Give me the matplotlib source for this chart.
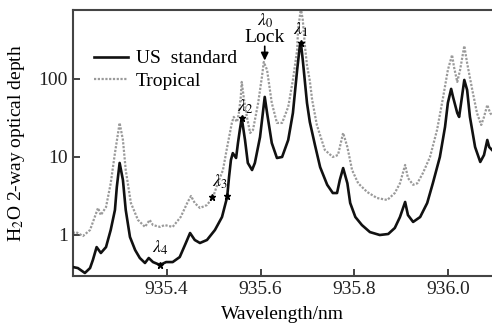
import matplotlib
matplotlib.use("Agg")
import matplotlib.pyplot as plt
from matplotlib.ticker import FixedLocator, FixedFormatter, NullLocator

plt.rcParams['font.family'] = ['Liberation Serif', 'DejaVu Serif']
plt.rcParams['mathtext.fontset'] = 'stix'

# ---- data ----
us_x = [935.200, 935.211, 935.226, 935.237, 935.243, 935.251, 935.260, 935.271,
        935.281, 935.290, 935.294, 935.300, 935.307, 935.313, 935.322, 935.333,
        935.343, 935.354, 935.362, 935.371, 935.386, 935.399, 935.413, 935.428,
        935.441, 935.450, 935.460, 935.471, 935.486, 935.503, 935.518, 935.529,
        935.533, 935.537, 935.541, 935.548, 935.552, 935.556, 935.560, 935.567,
        935.573, 935.582, 935.588, 935.599, 935.605, 935.609, 935.614, 935.624,
        935.635, 935.646, 935.659, 935.669, 935.678, 935.684, 935.686, 935.690,
        935.699, 935.705, 935.716, 935.727, 935.742, 935.754, 935.763, 935.769,
        935.776, 935.785, 935.791, 935.802, 935.816, 935.833, 935.854, 935.872,
        935.886, 935.897, 935.908, 935.914, 935.925, 935.940, 935.955, 935.967,
        935.982, 935.993, 935.999, 936.006, 936.010, 936.019, 936.023, 936.029,
        936.034, 936.040, 936.046, 936.057, 936.068, 936.076, 936.083, 936.087,
        936.093]
us_y = [0.389, 0.377, 0.326, 0.377, 0.478, 0.70, 0.588, 0.70,
        1.16, 2.09, 4.12, 8.38, 5.07, 2.09, 0.943, 0.642,
        0.507, 0.438, 0.507, 0.45, 0.413, 0.45, 0.45, 0.522,
        0.79, 1.06, 0.863, 0.79, 0.863, 1.16, 1.70, 3.07,
        5.54, 9.15, 11.2, 9.7, 15.1, 22.2, 31.6, 16.5,
        8.38, 6.8, 8.38, 18.0, 36.6, 58.8, 36.6, 15.1,
        9.7, 10.0, 16.5, 36.6, 130, 273, 289, 175,
        49.2, 28.1, 14.2, 7.4, 4.4, 3.45, 3.45, 5.1,
        7.2, 4.6, 2.57, 1.70, 1.34, 1.09, 1.0, 1.03,
        1.23, 1.70, 2.65, 1.80, 1.47, 1.70, 2.57, 4.6,
        10.0, 24.3, 49.2, 74.5, 58.8, 36.6, 32.6, 58.8,
        97, 72.3, 32.6, 13.4, 8.63, 10.6, 16.5, 13.4,
        12.3]

tr_x = [935.200, 935.207, 935.222, 935.237, 935.247, 935.254, 935.260, 935.271,
        935.281, 935.290, 935.300, 935.307, 935.313, 935.324, 935.339, 935.354,
        935.364, 935.371, 935.386, 935.396, 935.413, 935.430, 935.445, 935.452,
        935.460, 935.471, 935.486, 935.499, 935.509, 935.520, 935.529, 935.539,
        935.543, 935.550, 935.554, 935.558, 935.560, 935.565, 935.571, 935.578,
        935.584, 935.595, 935.603, 935.607, 935.614, 935.624, 935.635, 935.646,
        935.659, 935.669, 935.678, 935.680, 935.686, 935.690, 935.695, 935.699,
        935.705, 935.710, 935.720, 935.737, 935.754, 935.765, 935.776, 935.785,
        935.795, 935.808, 935.827, 935.848, 935.870, 935.886, 935.897, 935.908,
        935.914, 935.925, 935.934, 935.946, 935.961, 935.976, 935.989, 935.999,
        936.008, 936.012, 936.019, 936.025, 936.034, 936.040, 936.051, 936.061,
        936.070, 936.076, 936.083, 936.089, 936.093]
tr_y = [1.06, 1.09, 0.971, 1.16, 1.70, 2.22, 1.80, 2.28,
        4.6, 11.2, 27.3, 16.5, 6.8, 2.57, 1.56, 1.27,
        1.56, 1.34, 1.27, 1.34, 1.27, 1.70, 2.65, 3.16,
        2.57, 2.22, 2.42, 3.07, 4.6, 6.8, 13.4, 27.3,
        32.6, 28.1, 36.6, 58.8, 91.5, 53.8, 32.6, 20.3,
        22.2, 49.2, 106, 165, 130, 49.2, 27.3, 27.3,
        43.8, 97, 235, 425, 800, 571, 250, 150,
        95, 53.8, 25.7, 12.3, 10.0, 10.6, 20.3, 13.4,
        6.8, 4.6, 3.56, 2.98, 2.81, 3.45, 4.6, 7.9,
        5.38, 4.4, 4.6, 6.24, 10.0, 22.2, 58.8, 130,
        203, 143, 91.5, 130, 265, 160, 72.3, 36.6,
        25.7, 32.6, 46.4, 36.6, 34.5]

series_labels = ["US  standard", "Tropical"]
x_ticks = [935.4, 935.6, 935.8, 936.0]
x_tick_labels = ["935.4", "935.6", "935.8", "936.0"]
y_ticks = [1, 10, 100]
y_tick_labels = ["1", "10", "100"]

# markers / labels
mark_x = [935.386, 935.497, 935.529, 935.560, 935.686]
mark_y = [0.413, 3.07, 3.16, 31.6, 289]
lab_text = [r"$\lambda_4$", r"$\lambda_3$", r"$\lambda_2$", r"$\lambda_1$", r"$\lambda_0$"]
lab_x = [935.386, 935.514, 935.567, 935.686, 935.609]
lab_y = [0.68, 4.78, 43.8, 420, 560]

fig = plt.figure(figsize=(4.92, 3.29), dpi=100)
ax = fig.add_axes([0.148, 0.161, 0.852, 0.809])

ax.plot(us_x, us_y, color='#111111', lw=1.9, label=series_labels[0], zorder=3,
        solid_joinstyle='round')
ax.plot(tr_x, tr_y, color='#9a9a9a', lw=1.6, linestyle=(0, (1, 0.7)),
        label=series_labels[1], zorder=2)

ax.plot(mark_x, mark_y, linestyle='none', marker='*', ms=5, color='black', zorder=4)

fs = 14
for t, x, y in zip(lab_text, lab_x, lab_y):
    ax.text(x, y, t, fontsize=fs - 1, ha='center', va='center')
ax.text(935.609, 340, "Lock", fontsize=fs, ha='center', va='center')
ax.annotate("", xy=(935.609, 172), xytext=(935.609, 262),
            arrowprops=dict(arrowstyle='-|>,head_width=0.22,head_length=0.45',
                            color='black', lw=1.2, shrinkA=0, shrinkB=0))

ax.set_yscale('log')
ax.set_xlim(935.2003, 936.093)
ax.set_ylim(0.298, 767)

ax.xaxis.set_major_locator(FixedLocator(x_ticks))
ax.xaxis.set_major_formatter(FixedFormatter(x_tick_labels))
ax.yaxis.set_major_locator(FixedLocator(y_ticks))
ax.yaxis.set_major_formatter(FixedFormatter(y_tick_labels))
ax.yaxis.set_minor_locator(NullLocator())
ax.xaxis.set_minor_locator(NullLocator())
ax.tick_params(direction='in', length=5, width=1.2, labelsize=fs, colors='#222222')

for s in ['left', 'bottom', 'top']:
    ax.spines[s].set_linewidth(1.5)
    ax.spines[s].set_color('#444444')
ax.spines['right'].set_visible(False)

ax.set_xlabel("Wavelength/nm", fontsize=fs, labelpad=6)
ax.set_ylabel(r"H$_2$O 2-way optical depth", fontsize=fs, labelpad=8)

ax.legend(loc='upper left', bbox_to_anchor=(0.05, 0.85), frameon=False,
          fontsize=fs, borderpad=0, borderaxespad=0, handlelength=1.75,
          handletextpad=0.4, labelspacing=0.25)

fig.savefig("out.png", dpi=100)
